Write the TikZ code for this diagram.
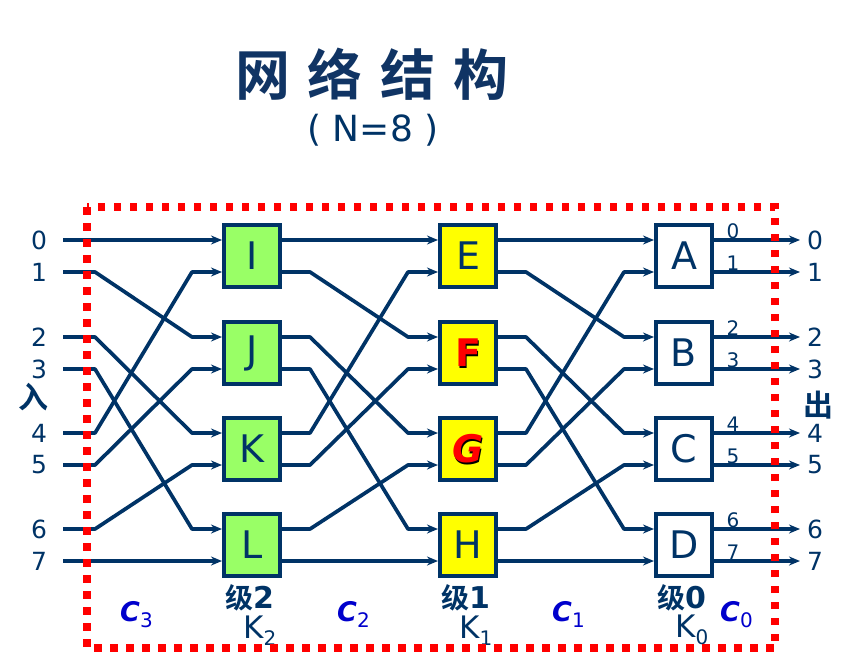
\documentclass[tikz,border=0pt]{standalone}
\usepackage{fontspec}
\setmainfont{DejaVu Sans}
\newfontfamily\cjk{Noto Sans CJK SC}[BoldFont={Noto Sans CJK SC Bold}]
\usetikzlibrary{arrows.meta,calc}
\definecolor{navy}{RGB}{0,51,102}
\definecolor{titlenavy}{RGB}{16,52,100}
\definecolor{boxgreen}{RGB}{153,255,102}
\definecolor{boxyellow}{RGB}{255,255,0}
\definecolor{dotred}{RGB}{255,0,0}
\definecolor{cblue}{RGB}{0,0,204}
\begin{document}
\begin{tikzpicture}[x=1pt,y=-1pt,
  wire/.style={draw=navy,line width=3.7pt,line join=round},
  arr/.style={-{Stealth[length=11pt,width=9pt]}},
  swbox/.style={draw=navy,line width=4pt,minimum width=56pt,minimum height=62pt,inner sep=0pt,
    font=\fontsize{38}{38}\selectfont,text=navy},
  boxlab/.style={inner sep=0pt,font=\fontsize{38}{38}\selectfont\bfseries},
  numlab/.style={text=navy,font=\fontsize{25}{25}\selectfont,inner sep=0pt},
  smalllab/.style={text=navy,font=\fontsize{20}{20}\selectfont,inner sep=0pt},
  hanlab/.style={text=navy,font=\cjk\bfseries\fontsize{30}{30}\selectfont,inner sep=0pt},
  stagelab/.style={text=navy,font=\fontsize{30}{30}\selectfont\bfseries,inner sep=0pt,anchor=base west},
  klab/.style={text=navy,font=\fontsize{31}{31}\selectfont,inner sep=0pt,anchor=base west},
  clab/.style={text=cblue,font=\fontsize{27}{27}\selectfont\bfseries\itshape,inner sep=0pt,anchor=base west},
  frame/.style={draw=dotred,line width=7.5pt,dash pattern=on 7.5pt off 8.5pt}
]
\useasboundingbox (0,0) rectangle (854,665);

% title
\node[text=titlenavy,font=\cjk\bfseries\fontsize{55}{55}\selectfont,inner sep=0pt] (title) at (372,74)
  {网\kern18pt络\kern18pt结\kern18pt构};
\node[text=navy,font=\fontsize{36}{36}\selectfont,inner sep=0pt] (sub) at (373,130) {( N=8 )};

% switch boxes
\node[swbox,fill=boxgreen] (I) at (252,256) {I};
\node[swbox,fill=boxgreen] (J) at (252,353) {J};
\node[swbox,fill=boxgreen] (K) at (252,449) {K};
\node[swbox,fill=boxgreen] (L) at (252,545) {L};
\node[swbox,fill=boxyellow] (E) at (468,256) {E};
\node[swbox,fill=boxyellow] (F) at (468,353) {};
\node[swbox,fill=boxyellow] (G) at (468,449) {};
\node[swbox,fill=boxyellow] (H) at (468,545) {H};
\node[swbox,fill=white] (A) at (684,256) {A};
\node[swbox,fill=white] (B) at (684,353) {B};
\node[swbox,fill=white] (C) at (684,449) {C};
\node[swbox,fill=white] (D) at (684,545) {D};
\node[boxlab,text=black] (Fs) at ([shift={(1.5pt,-1.5pt)}]F.center) {F};
\node[boxlab,text=red] (Ft) at (F.center) {F};
\node[boxlab,text=black] (Gs) at ([shift={(1.5pt,-1.5pt)}]G.center) {\itshape G};
\node[boxlab,text=red] (Gt) at (G.center) {\itshape G};

% ports
\foreach \b in {I,J,K,L,E,F,G,H,A,B,C,D}{
  \coordinate (\b-i0) at ([yshift=16pt]\b.west);
  \coordinate (\b-i1) at ([yshift=-16pt]\b.west);
  \coordinate (\b-o0) at ([yshift=16pt]\b.east);
  \coordinate (\b-o1) at ([yshift=-16pt]\b.east);
}

% inputs and outputs
\foreach \r/\y in {0/240,1/272,2/337,3/369,4/433,5/465,6/529,7/561}{
  \coordinate (n\r) at (63,\y);
  \coordinate (q\r) at (800,\y);
  \node[numlab] (inl\r) at (39,\y) {\r};
  \node[numlab] (outl\r) at (815,\y) {\r};
}

% input -> stage 2
\foreach \s/\t in {n0/I-i0,n1/J-i0,n2/K-i0,n3/L-i0,n4/I-i1,n5/J-i1,n6/K-i1,n7/L-i1}{
  \draw[wire,arr] (\s) -- ++(32,0) -- ([xshift=-30pt]\t) -- (\t);
}
% stage 2 -> stage 1
\foreach \s/\t in {I-o0/E-i0,I-o1/F-i0,J-o0/G-i0,J-o1/H-i0,K-o0/E-i1,K-o1/F-i1,L-o0/G-i1,L-o1/H-i1}{
  \draw[wire,arr] (\s) -- ++(28,0) -- ([xshift=-30pt]\t) -- (\t);
}
% stage 1 -> stage 0
\foreach \s/\t in {E-o0/A-i0,E-o1/B-i0,F-o0/C-i0,F-o1/D-i0,G-o0/A-i1,G-o1/B-i1,H-o0/C-i1,H-o1/D-i1}{
  \draw[wire,arr] (\s) -- ++(28,0) -- ([xshift=-30pt]\t) -- (\t);
}
% stage 0 -> outputs
\foreach \s/\t/\n in {A-o0/q0/0,A-o1/q1/1,B-o0/q2/2,B-o1/q3/3,C-o0/q4/4,C-o1/q5/5,D-o0/q6/6,D-o1/q7/7}{
  \draw[wire,arr] (\s) -- (\t);
  \node[smalllab] (ol\n) at ([shift={(19pt,9pt)}]\s) {\n};
}

% side labels
\node[hanlab] (ru) at (33,397) {入};
\node[hanlab] (chu) at (818,405) {出};

% stage labels
\node[stagelab] (s2) at (225,608) {{\cjk\fontsize{28}{28}\selectfont 级}2};
\node[stagelab] (s1) at (441,608) {{\cjk\fontsize{28}{28}\selectfont 级}1};
\node[stagelab] (s0) at (657,608) {{\cjk\fontsize{28}{28}\selectfont 级}0};
\node[klab] (k2) at (243,638) {K\raisebox{-7pt}{\fontsize{20}{20}\selectfont 2}};
\node[klab] (k1) at (459,638) {K\raisebox{-7pt}{\fontsize{20}{20}\selectfont 1}};
\node[klab] (k0) at (675,637) {K\raisebox{-7pt}{\fontsize{20}{20}\selectfont 0}};
\node[clab] (c3) at (120,621) {C\raisebox{-6pt}{\upshape\mdseries\fontsize{20}{20}\selectfont 3}};
\node[clab] (c2) at (337,621) {C\raisebox{-6pt}{\upshape\mdseries\fontsize{20}{20}\selectfont 2}};
\node[clab] (c1) at (552,621) {C\raisebox{-6pt}{\upshape\mdseries\fontsize{20}{20}\selectfont 1}};
\node[clab] (c0) at (720,621) {C\raisebox{-6pt}{\upshape\mdseries\fontsize{20}{20}\selectfont 0}};

% dotted frame
\draw[frame] (87,207) rectangle (775,648);
\end{tikzpicture}
\end{document}
